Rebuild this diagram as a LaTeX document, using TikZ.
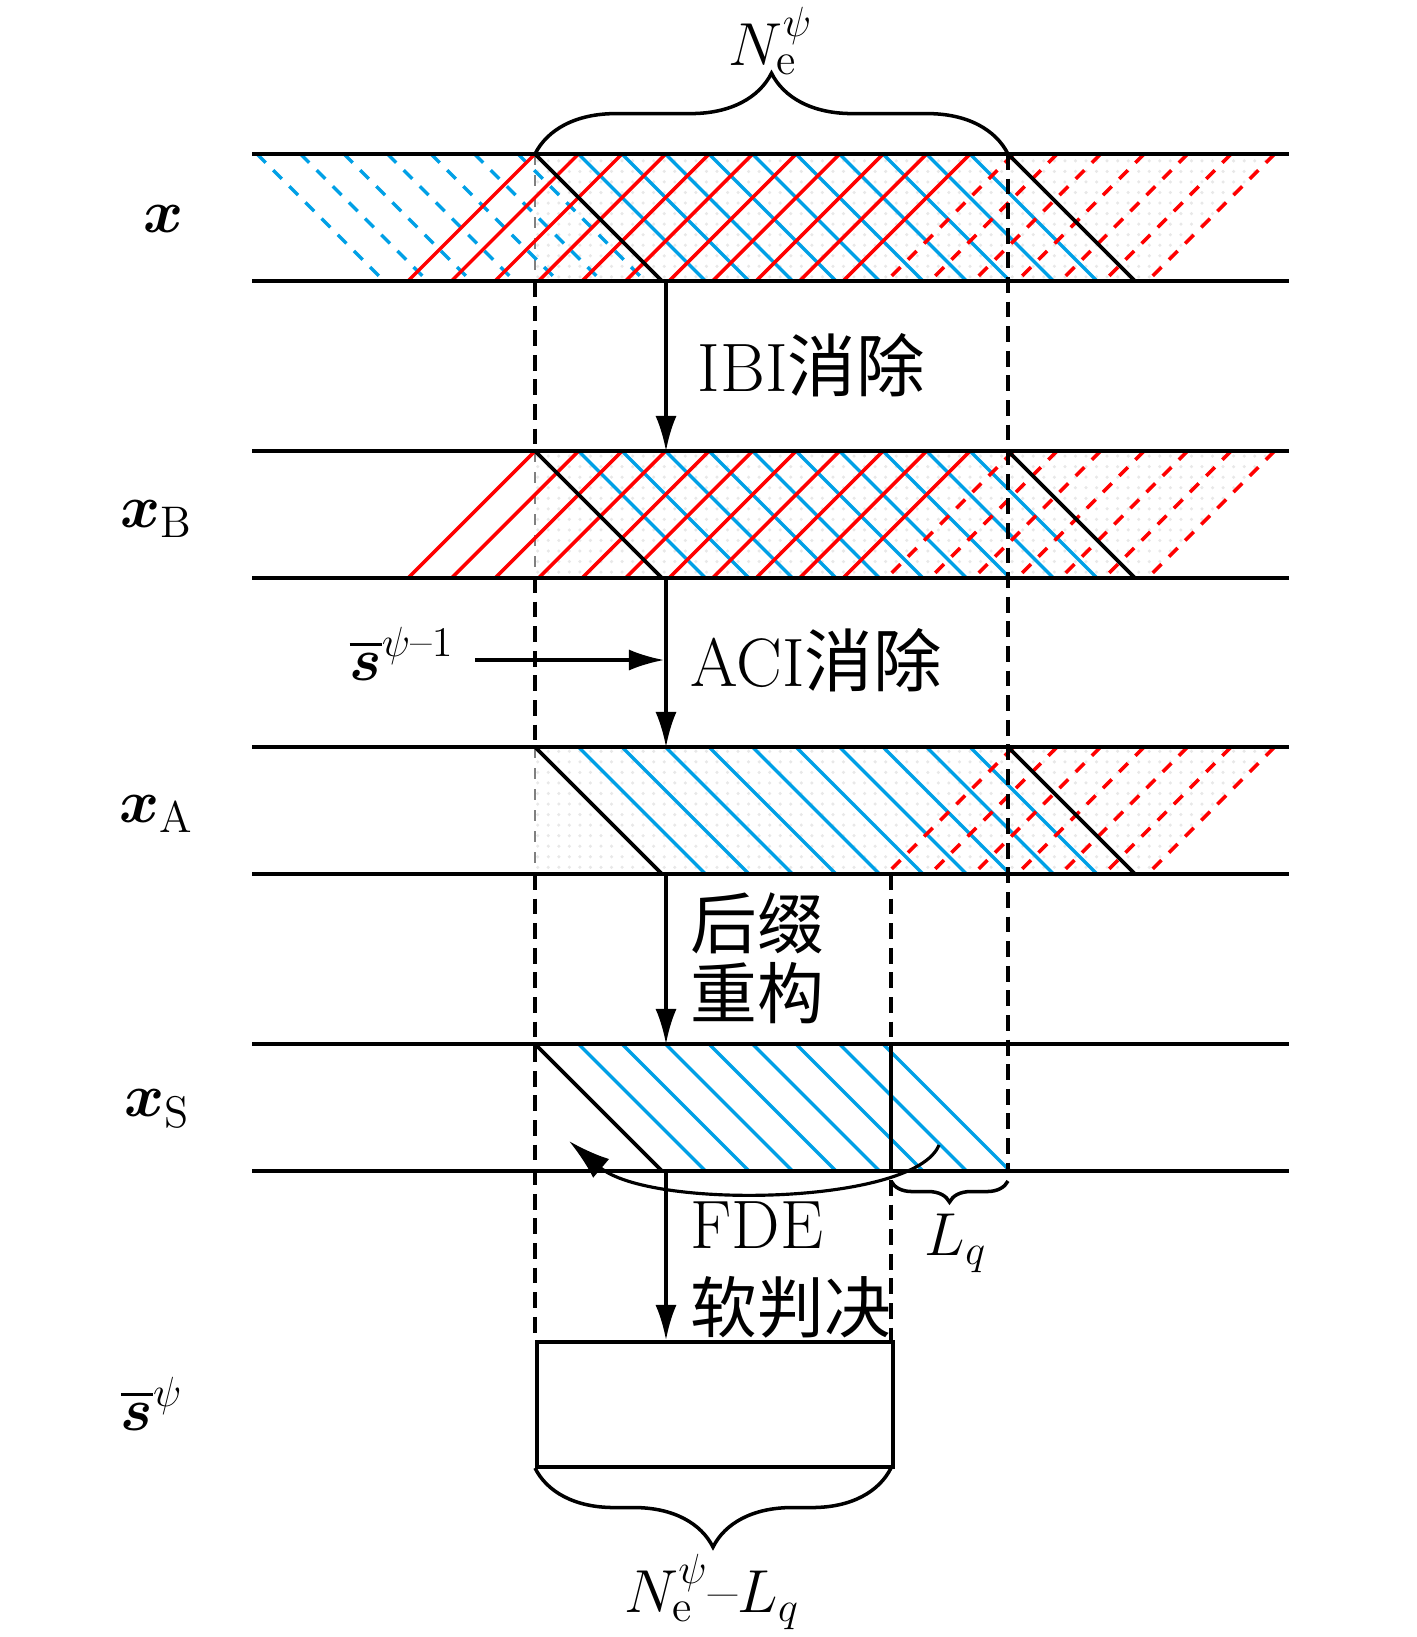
\documentclass[tikz,border=0pt]{standalone}
\usepackage{amsmath}
\usepackage{amssymb}
\usepackage{bm}
\usepackage{fontspec}
\newfontfamily\cjkfont{Noto Sans CJK SC}
\usepackage{tikz}
\usetikzlibrary{decorations.pathreplacing, arrows.meta, patterns, positioning, calc}

\begin{document}
\begin{tikzpicture}[x=0.1mm, y=-0.1mm,
        rowline/.style={line width=0.9pt},
        hatch/.style={line width=1pt},
        hdash/.style={dash pattern=on 3.5pt off 3pt},
        edgeline/.style={line width=1.1pt},
        vdash/.style={line width=1pt, dash pattern=on 4.5pt off 2.5pt},
        flow/.style={line width=0.9pt, -{Latex[length=10pt, width=6pt]}},
        lbl/.style={font=\fontsize{19.5}{21}\selectfont, inner sep=0pt},
        mlbl/.style={font=\fontsize{18}{20}\selectfont, inner sep=0pt},
        lblcjk/.style={font=\fontsize{19}{20}\selectfont, inner sep=0pt, align=left}]
        % Colours
        \definecolor{myblue}{RGB}{0, 160, 230}
        \definecolor{myred}{RGB}{255, 0, 0}

        \useasboundingbox (0,0) rectangle (1417,1637);

        % 1. Rows x, x_B, x_A (top edge / prev-block flag / red-solid flag)
        \foreach \t/\prev/\red in {154/1/1, 451/0/1, 747/0/0} {
            \begin{scope}[shift={(0,\t)}]
                \fill[pattern=dots, pattern color=gray!18] (535,0) -- (1275,0) -- (1148,127) -- (535,127) -- cycle;
                \draw[gray, line width=0.4pt, dashed] (535,0) -- (535,127);
                % previous block, blue dashed
                \ifnum\prev=1
                    \foreach \k in {0,...,6}
                        \draw[hatch, hdash, myblue] (518-43.5*\k,0) -- ++(127,127);
                \fi
                % current block, blue solid
                \foreach \k in {1,...,10}
                    \draw[hatch, myblue] (535+43.5*\k,0) -- ++(127,127);
                % red solid part
                \ifnum\red=1
                    \foreach \k in {0,...,10}
                        \draw[hatch, myred] (535+43.5*\k,0) -- ++(-127,127);
                \fi
                % red dashed part
                \foreach \k in {11,...,17}
                    \draw[hatch, hdash, myred] (535+43.5*\k,0) -- ++(-127,127);
                % block edges
                \draw[edgeline] (535,0) -- (1008,0) (662,127) -- (1135,127);
                \draw[edgeline] (535,0) -- (662,127) (1008,0) -- (1135,127);
            \end{scope}
        }

        % 2. Row x_S
        \begin{scope}[shift={(0,1044)}]
            \foreach \k in {1,...,8}
                \draw[hatch, myblue] (535+43.5*\k,0) -- ++(127,127);
            \draw[edgeline] (535,0) -- (662,127);
            \draw[edgeline] (891,0) -- (891,127);
        \end{scope}

        % Row lines
        \foreach \t in {154, 451, 747, 1044}
            \draw[rowline] (252,\t) -- (1289,\t) (252,\t+127) -- (1289,\t+127);

        % 3. Dashed guides
        \draw[vdash] (535,281) -- (535,451) (535,577) -- (535,747) (535,874) -- (535,1340);
        \draw[vdash] (1008,154) -- (1008,1170);
        \draw[vdash] (891,874) -- (891,1044) (891,1180) -- (891,1340);

        % Output block
        \node[draw, line width=1.1pt, anchor=north west, inner sep=0pt,
              minimum width=35.6mm, minimum height=12.5mm] (sbox) at (535,1340) {};

        % 4. Row labels
        \node[mlbl] (lx)  at (164,219)  {$\boldsymbol{x}$};
        \node[mlbl] (lxB) at (157,519)  {$\boldsymbol{x}_{\mathrm{B}}$};
        \node[mlbl] (lxA) at (157,814)  {$\boldsymbol{x}_{\mathrm{A}}$};
        \node[mlbl] (lxS) at (157,1109) {$\boldsymbol{x}_{\mathrm{S}}$};
        \node[mlbl] (ls)  at (152,1404) {$\overline{\boldsymbol{s}}^{\psi}$};

        % 5. Processing steps
        \coordinate (ibiA) at (666,281);  \coordinate (ibiB) at (666,451);
        \coordinate (aciA) at (666,577);  \coordinate (aciB) at (666,747);
        \coordinate (sufA) at (666,874);  \coordinate (sufB) at (666,1044);
        \coordinate (fdeA) at (666,1170); \coordinate (fdeB) at (666,1340);
        \coordinate (aciIn) at (475,660); \coordinate (aciJoin) at (664,660);
        \draw[flow] (ibiA) -- (ibiB);
        \draw[flow] (aciA) -- (aciB);
        \draw[flow] (sufA) -- (sufB);
        \draw[flow] (fdeA) -- (fdeB);
        \draw[flow] (aciIn) -- (aciJoin);

        \node[lbl, anchor=west] (tibi) at (697,365) {IBI{\cjkfont 消除}};
        \node[lbl, anchor=west] (taci) at (690,660) {ACI{\cjkfont 消除}};
        \node[mlbl] (lsprev) at (402,654) {$\overline{\boldsymbol{s}}^{\psi\text{--}1}$};
        \node[lblcjk, anchor=west] (tsuf) at (690,958) {\cjkfont 后缀\\\cjkfont 重构};
        \node[lblcjk, anchor=west] (tfde) at (690,1270) {\fontsize{19.5}{20}\selectfont FDE\\[4pt]\cjkfont 软判决};

        % Cyclic suffix moved to the front
        \coordinate (cycA) at (939,1145);
        \coordinate (cycB) at (569,1141);
        \draw[line width=0.9pt, -{Latex[length=12pt, width=7pt]}] (cycA) .. controls (915,1205) and (650,1210) .. (cycB);

        % 6. Braces
        \draw[line width=1pt, decorate, decoration={brace, amplitude=23pt}] (535,154) -- (1008,154);
        \node[mlbl] (ne) at (771,41) {$N_{\mathrm{e}}^{\psi}$};
        \draw[line width=1pt, decorate, decoration={brace, amplitude=6pt}] (1008,1181) -- (891,1181);
        \node[mlbl] (lq) at (956,1243) {$L_q$};
        \draw[line width=1pt, decorate, decoration={brace, amplitude=22.5pt}] (891,1468) -- (535,1468);
        \node[mlbl] (nl) at (712,1592) {$N_{\mathrm{e}}^{\psi}\text{--}L_q$};

    \end{tikzpicture}
\end{document}
